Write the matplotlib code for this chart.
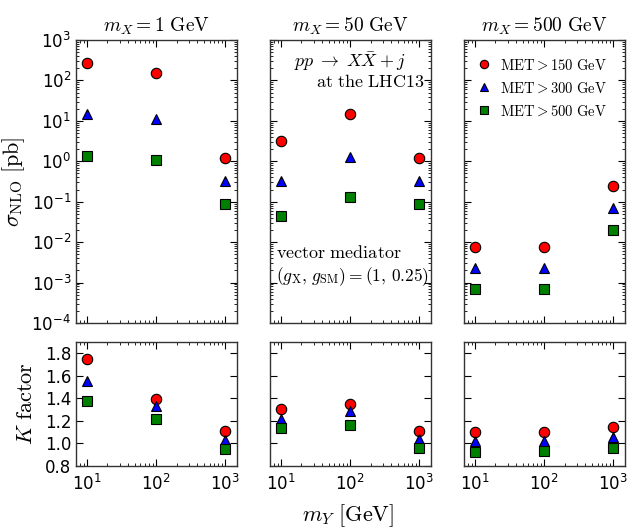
import numpy as np
import matplotlib
matplotlib.use("Agg")
import matplotlib.pyplot as plt
from matplotlib.ticker import LogLocator, MultipleLocator, NullFormatter

plt.rcParams['mathtext.fontset'] = 'cm'
plt.rcParams['font.family'] = 'DejaVu Sans'

# mediator masses
m_y = [10, 100, 1000]
m_x_labels = ["1", "50", "500"]
cut_labels = ["150", "300", "500"]

# NLO cross sections [pb], per m_X panel, per MET cut
sigma = [
    [[270, 150, 1.2], [15, 11, 0.33], [1.35, 1.05, 0.088]],
    [[3.2, 15, 1.2], [0.33, 1.25, 0.33], [0.044, 0.13, 0.088]],
    [[0.0078, 0.0078, 0.25], [0.0023, 0.0023, 0.07], [0.0007, 0.0007, 0.02]],
]

# K factors
kfac = [
    [[1.75, 1.39, 1.11], [1.55, 1.33, 1.03], [1.38, 1.22, 0.95]],
    [[1.31, 1.35, 1.11], [1.22, 1.29, 1.04], [1.14, 1.16, 0.96]],
    [[1.10, 1.10, 1.15], [1.02, 1.02, 1.06], [0.92, 0.93, 0.96]],
]

colors = ['red', 'blue', 'green']
markers = ['o', '^', 's']
msizes = [7.5, 7.5, 7]

fig = plt.figure(figsize=(6.27, 5.32), dpi=100)
W, H = 627., 532.
lefts = [76, 270, 464]
width = 161


def style(ax):
    for s in ax.spines.values():
        s.set_color('#333333')
        s.set_linewidth(1.0)
    ax.tick_params(which='both', direction='in', top=True, right=True,
                   labelsize=12, color='black')
    ax.tick_params(which='major', length=5, width=0.8)
    ax.tick_params(which='minor', length=2.5, width=0.6)
    ax.set_xscale('log')
    ax.set_xlim(7, 1500)
    ax.xaxis.set_major_locator(LogLocator(base=10, numticks=10))
    ax.xaxis.set_minor_locator(LogLocator(base=10, subs=np.arange(2, 10), numticks=10))
    ax.xaxis.set_minor_formatter(NullFormatter())


for i in range(3):
    ax = fig.add_axes([lefts[i] / W, 1 - 323 / H, width / W, 283 / H])
    style(ax)
    ax.set_yscale('log')
    ax.set_ylim(1e-4, 1e3)
    ax.yaxis.set_major_locator(LogLocator(base=10, numticks=12))
    ax.yaxis.set_minor_locator(LogLocator(base=10, subs=np.arange(2, 10), numticks=12))
    ax.yaxis.set_minor_formatter(NullFormatter())
    ax.set_xticklabels([])
    for j in range(3):
        ax.plot(m_y, sigma[i][j], linestyle='none', marker=markers[j],
                color=colors[j], markeredgecolor='black', markeredgewidth=0.8,
                markersize=msizes[j],
                label=r"$\mathrm{MET} > " + cut_labels[j] + r"\ \mathrm{GeV}$")
    ax.set_title(r"$m_X = " + m_x_labels[i] + r"\ \mathrm{GeV}$", fontsize=14, pad=6)
    if i == 0:
        ax.set_ylabel(r"$\sigma_{\rm NLO}\ [\mathrm{pb}]$", fontsize=16, labelpad=3)
    else:
        ax.set_yticklabels([])
    if i == 1:
        ax.text(0.84, 0.925, r"$pp \;\to\; X\bar{X} + j$", transform=ax.transAxes,
                ha='right', va='center', fontsize=13)
        ax.text(0.96, 0.853, r"$\mathrm{at\ the\ LHC13}$", transform=ax.transAxes,
                ha='right', va='center', fontsize=13)
        ax.text(0.04, 0.247, r"$\mathrm{vector\ mediator}$", transform=ax.transAxes,
                ha='left', va='center', fontsize=13)
        ax.text(0.04, 0.163, r"$(g_{\rm X},\, g_{\rm SM}) = (1,\, 0.25)$",
                transform=ax.transAxes, ha='left', va='center', fontsize=12.5)
    if i == 2:
        ax.legend(loc='upper left', bbox_to_anchor=(-0.03, 0.985), frameon=False,
                  fontsize=10.5, markerscale=0.8, handletextpad=0.3,
                  handlelength=1.6, labelspacing=0.55, numpoints=1)

for i in range(3):
    ax = fig.add_axes([lefts[i] / W, 1 - 466 / H, width / W, 124 / H])
    style(ax)
    ax.set_ylim(0.8, 1.9)
    ax.yaxis.set_major_locator(MultipleLocator(0.2))
    for j in range(3):
        ax.plot(m_y, kfac[i][j], linestyle='none', marker=markers[j],
                color=colors[j], markeredgecolor='black', markeredgewidth=0.8,
                markersize=msizes[j])
    if i == 0:
        ax.set_ylabel(r"$K\ \mathrm{factor}$", fontsize=16, labelpad=6)
    else:
        ax.set_yticklabels([])
    ax.tick_params(axis='x', pad=6)

fig.text(348 / W, 1 - 516 / H, r"$m_Y\ [\mathrm{GeV}]$", ha='center', va='center',
         fontsize=16)

fig.savefig("out.png", dpi=100)
